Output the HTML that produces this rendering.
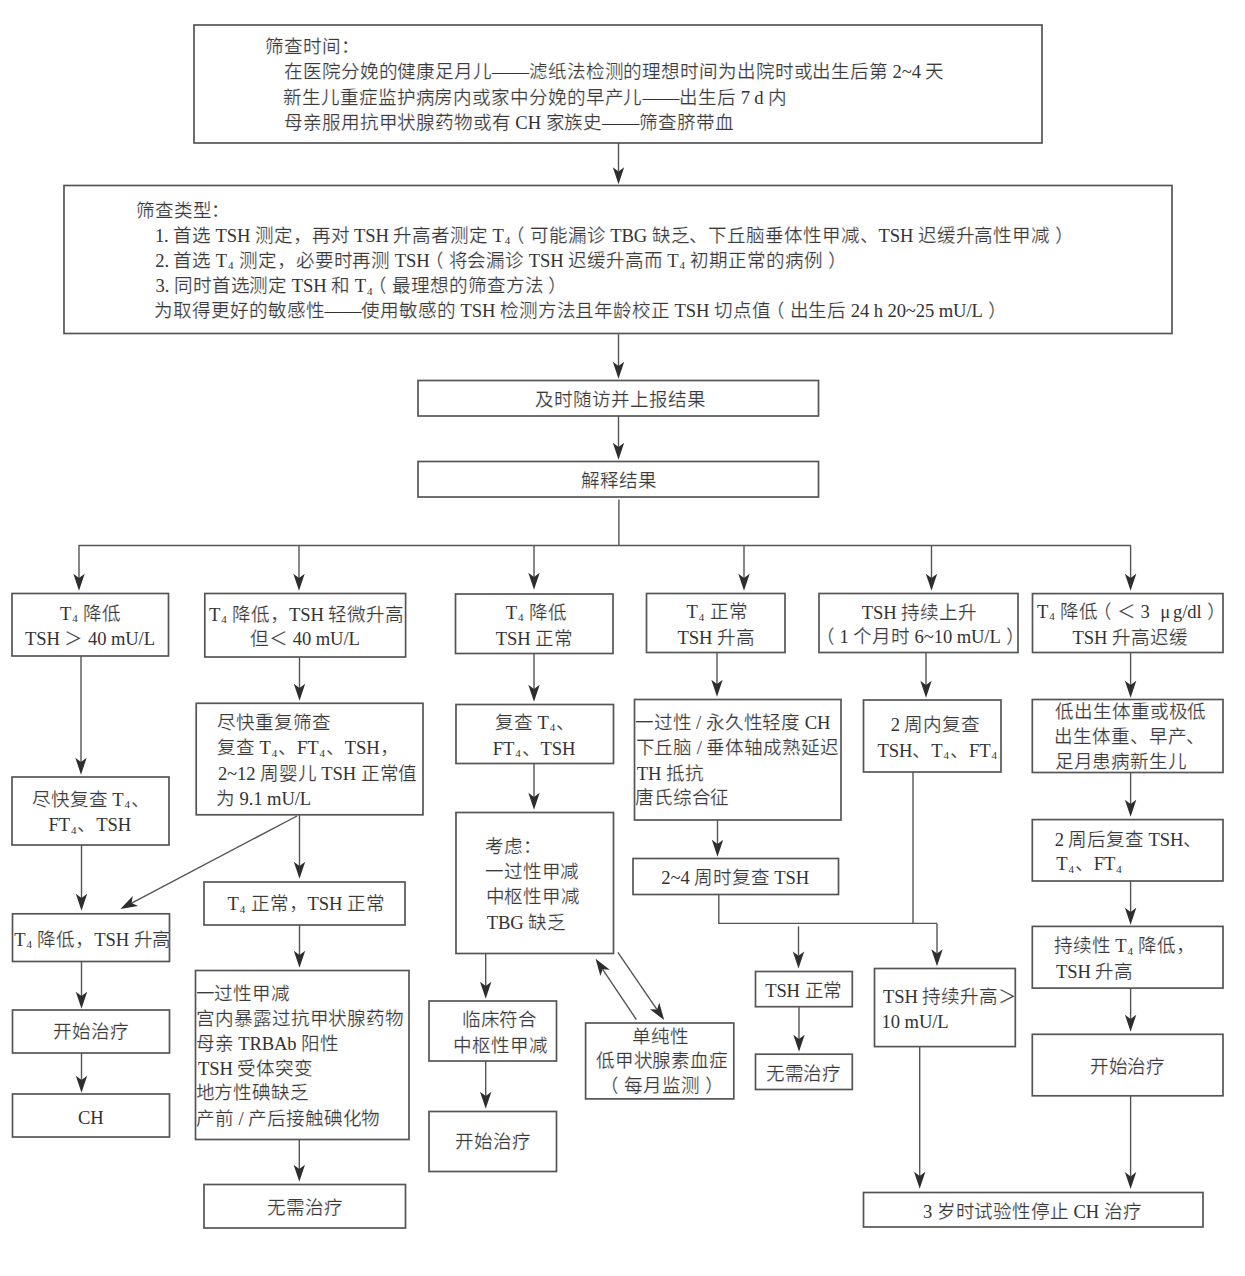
<!DOCTYPE html>
<html lang="zh-CN"><head><meta charset="utf-8"><style>
html,body{margin:0;padding:0;background:#fff;}
body{width:1245px;height:1276px;position:relative;overflow:hidden;}
svg{position:absolute;left:0;top:0;}
rect{fill:none;stroke:#555;stroke-width:1.7;}
.l{fill:none;stroke:#555;stroke-width:1.4;}
.a{fill:#2e2e2e;stroke:none;}
.t{position:absolute;white-space:nowrap;font-family:"Liberation Serif",serif;font-size:18.6px;line-height:20px;color:#3a3a3a;letter-spacing:-0.1px;-webkit-text-stroke:0.2px #fff;}
.t sub{font-size:11px;vertical-align:-2.5px;margin:0 1px 0 1px;line-height:0;-webkit-text-stroke:0;}
.e{-webkit-text-stroke:0;color:#333;}
.po{position:relative;left:-5px;}
.pc{position:relative;left:5px;}
</style></head><body>
<svg width="1245" height="1276" viewBox="0 0 1245 1276">
<rect x="194" y="25" width="848" height="118"/>
<rect x="64" y="185.5" width="1108" height="148.0"/>
<rect x="418" y="380.5" width="400.5" height="35.5"/>
<rect x="418" y="461.5" width="400.5" height="35.5"/>
<rect x="12" y="593.5" width="156.5" height="62.5"/>
<rect x="204.8" y="593.5" width="200.8" height="63.5"/>
<rect x="455.5" y="594" width="157.5" height="59.5"/>
<rect x="646.5" y="593.5" width="138.5" height="59.0"/>
<rect x="819" y="593.5" width="199" height="59.0"/>
<rect x="1032.5" y="593.6" width="190.5" height="58.89999999999998"/>
<rect x="12" y="777" width="157" height="68"/>
<rect x="12.5" y="913.8" width="157.0" height="47.700000000000045"/>
<rect x="12.5" y="1010" width="157.0" height="43"/>
<rect x="12.5" y="1094" width="157.0" height="43"/>
<rect x="196.2" y="703.3" width="226.8" height="111.5"/>
<rect x="204" y="882" width="201" height="43"/>
<rect x="195.5" y="970.5" width="213.5" height="169.0"/>
<rect x="204" y="1184.5" width="201.5" height="43.5"/>
<rect x="456" y="704.5" width="157.5" height="59.0"/>
<rect x="456" y="812.5" width="157.5" height="141.0"/>
<rect x="429" y="1001" width="127.5" height="60"/>
<rect x="429" y="1111.5" width="127.5" height="60.0"/>
<rect x="585.6" y="1023" width="148.19999999999993" height="75.90000000000009"/>
<rect x="634.5" y="699.5" width="206.5" height="120.5"/>
<rect x="633" y="858.5" width="205.5" height="36.0"/>
<rect x="755.5" y="971.5" width="96.79999999999995" height="35.200000000000045"/>
<rect x="755.5" y="1054.2" width="96.79999999999995" height="35.299999999999955"/>
<rect x="863.5" y="700" width="137.5" height="72"/>
<rect x="874.5" y="968.5" width="140.79999999999995" height="78.09999999999991"/>
<rect x="1032.3" y="699.5" width="190.70000000000005" height="73.0"/>
<rect x="1032.3" y="819.6" width="190.70000000000005" height="61.39999999999998"/>
<rect x="1032.3" y="926.4" width="190.70000000000005" height="61.700000000000045"/>
<rect x="1032.3" y="1034.3" width="190.70000000000005" height="61.5"/>
<rect x="863.5" y="1192.5" width="339.5" height="34.5"/>
<polyline class="l" points="618.9,499.5 618.9,545.5"/>
<polyline class="l" points="78.5,545.5 1131,545.5"/>
<polyline class="l" points="718.8,894.5 718.8,923.4 937,923.4"/>
<polyline class="l" points="913,772 913,923.4"/>
<line class="l" x1="618.5" y1="143" x2="618.50" y2="171.50"/>
<path class="a" d="M618.50,184.20 L612.80,167.20 L618.50,171.50 L624.20,167.20 Z"/>
<line class="l" x1="618.5" y1="334.2" x2="618.50" y2="366.00"/>
<path class="a" d="M618.50,378.70 L612.80,361.70 L618.50,366.00 L624.20,361.70 Z"/>
<line class="l" x1="618.5" y1="416" x2="618.50" y2="447.00"/>
<path class="a" d="M618.50,459.70 L612.80,442.70 L618.50,447.00 L624.20,442.70 Z"/>
<line class="l" x1="79" y1="545.5" x2="79.00" y2="578.00"/>
<path class="a" d="M79.00,590.70 L73.30,573.70 L79.00,578.00 L84.70,573.70 Z"/>
<line class="l" x1="299" y1="545.5" x2="299.00" y2="578.00"/>
<path class="a" d="M299.00,590.70 L293.30,573.70 L299.00,578.00 L304.70,573.70 Z"/>
<line class="l" x1="534" y1="545.5" x2="534.00" y2="577.00"/>
<path class="a" d="M534.00,589.70 L528.30,572.70 L534.00,577.00 L539.70,572.70 Z"/>
<line class="l" x1="744" y1="545.5" x2="744.00" y2="578.00"/>
<path class="a" d="M744.00,590.70 L738.30,573.70 L744.00,578.00 L749.70,573.70 Z"/>
<line class="l" x1="931.5" y1="545.5" x2="931.50" y2="578.00"/>
<path class="a" d="M931.50,590.70 L925.80,573.70 L931.50,578.00 L937.20,573.70 Z"/>
<line class="l" x1="1130.6" y1="545.5" x2="1130.60" y2="578.00"/>
<path class="a" d="M1130.60,590.70 L1124.90,573.70 L1130.60,578.00 L1136.30,573.70 Z"/>
<line class="l" x1="81" y1="656" x2="81.00" y2="762.00"/>
<path class="a" d="M81.00,774.70 L75.30,757.70 L81.00,762.00 L86.70,757.70 Z"/>
<line class="l" x1="81.5" y1="845" x2="81.50" y2="898.00"/>
<path class="a" d="M81.50,910.70 L75.80,893.70 L81.50,898.00 L87.20,893.70 Z"/>
<line class="l" x1="81.5" y1="961.5" x2="81.50" y2="996.00"/>
<path class="a" d="M81.50,1008.70 L75.80,991.70 L81.50,996.00 L87.20,991.70 Z"/>
<line class="l" x1="81.5" y1="1053" x2="81.50" y2="1080.00"/>
<path class="a" d="M81.50,1092.70 L75.80,1075.70 L81.50,1080.00 L87.20,1075.70 Z"/>
<line class="l" x1="299.5" y1="657" x2="299.50" y2="688.00"/>
<path class="a" d="M299.50,700.70 L293.80,683.70 L299.50,688.00 L305.20,683.70 Z"/>
<line class="l" x1="299.5" y1="815" x2="299.50" y2="866.00"/>
<path class="a" d="M299.50,878.70 L293.80,861.70 L299.50,866.00 L305.20,861.70 Z"/>
<line class="l" x1="297" y1="816" x2="131.62" y2="903.01"/>
<path class="a" d="M120.38,908.93 L132.77,895.97 L131.62,903.01 L138.08,906.05 Z"/>
<line class="l" x1="299.5" y1="925" x2="299.50" y2="955.00"/>
<path class="a" d="M299.50,967.70 L293.80,950.70 L299.50,955.00 L305.20,950.70 Z"/>
<line class="l" x1="299.3" y1="1139.5" x2="299.30" y2="1169.00"/>
<path class="a" d="M299.30,1181.70 L293.60,1164.70 L299.30,1169.00 L305.00,1164.70 Z"/>
<line class="l" x1="534" y1="653.5" x2="534.00" y2="689.00"/>
<path class="a" d="M534.00,701.70 L528.30,684.70 L534.00,689.00 L539.70,684.70 Z"/>
<line class="l" x1="534" y1="763.5" x2="534.00" y2="797.00"/>
<path class="a" d="M534.00,809.70 L528.30,792.70 L534.00,797.00 L539.70,792.70 Z"/>
<line class="l" x1="485.7" y1="953.5" x2="485.70" y2="986.00"/>
<path class="a" d="M485.70,998.70 L480.00,981.70 L485.70,986.00 L491.40,981.70 Z"/>
<line class="l" x1="485.7" y1="1061" x2="485.70" y2="1096.00"/>
<path class="a" d="M485.70,1108.70 L480.00,1091.70 L485.70,1096.00 L491.40,1091.70 Z"/>
<line class="l" x1="636.3" y1="1019.5" x2="602.68" y2="969.37"/>
<path class="a" d="M595.61,958.82 L609.81,969.76 L602.68,969.37 L600.34,976.11 Z"/>
<line class="l" x1="617.9" y1="952.4" x2="657.02" y2="1009.60"/>
<path class="a" d="M664.20,1020.08 L649.89,1009.26 L657.02,1009.60 L659.30,1002.83 Z"/>
<line class="l" x1="717" y1="652.5" x2="717.00" y2="684.00"/>
<path class="a" d="M717.00,696.70 L711.30,679.70 L717.00,684.00 L722.70,679.70 Z"/>
<line class="l" x1="717.5" y1="820" x2="717.50" y2="844.00"/>
<path class="a" d="M717.50,856.70 L711.80,839.70 L717.50,844.00 L723.20,839.70 Z"/>
<line class="l" x1="798.5" y1="926.4" x2="798.50" y2="955.70"/>
<path class="a" d="M798.50,968.40 L792.80,951.40 L798.50,955.70 L804.20,951.40 Z"/>
<line class="l" x1="799" y1="1007" x2="799.00" y2="1039.00"/>
<path class="a" d="M799.00,1051.70 L793.30,1034.70 L799.00,1039.00 L804.70,1034.70 Z"/>
<line class="l" x1="937" y1="923.4" x2="937.00" y2="953.60"/>
<path class="a" d="M937.00,966.30 L931.30,949.30 L937.00,953.60 L942.70,949.30 Z"/>
<line class="l" x1="926" y1="652.5" x2="926.00" y2="685.00"/>
<path class="a" d="M926.00,697.70 L920.30,680.70 L926.00,685.00 L931.70,680.70 Z"/>
<line class="l" x1="919.7" y1="1046.5" x2="919.70" y2="1176.00"/>
<path class="a" d="M919.70,1188.70 L914.00,1171.70 L919.70,1176.00 L925.40,1171.70 Z"/>
<line class="l" x1="1130.6" y1="652.5" x2="1130.60" y2="685.00"/>
<path class="a" d="M1130.60,697.70 L1124.90,680.70 L1130.60,685.00 L1136.30,680.70 Z"/>
<line class="l" x1="1130.6" y1="772" x2="1130.60" y2="804.00"/>
<path class="a" d="M1130.60,816.70 L1124.90,799.70 L1130.60,804.00 L1136.30,799.70 Z"/>
<line class="l" x1="1130.6" y1="881" x2="1130.60" y2="912.00"/>
<path class="a" d="M1130.60,924.70 L1124.90,907.70 L1130.60,912.00 L1136.30,907.70 Z"/>
<line class="l" x1="1130.6" y1="988" x2="1130.60" y2="1019.00"/>
<path class="a" d="M1130.60,1031.70 L1124.90,1014.70 L1130.60,1019.00 L1136.30,1014.70 Z"/>
<line class="l" x1="1130.6" y1="1096" x2="1130.60" y2="1176.40"/>
<path class="a" d="M1130.60,1189.10 L1124.90,1172.10 L1130.60,1176.40 L1136.30,1172.10 Z"/>
</svg>
<div class="t" id="t0" style="left:265.18px;top:37.00px">筛查时间：</div>
<div class="t" id="t1" style="left:284.00px;top:62.40px">在医院分娩的健康足月儿<span class="e">——</span>滤纸法检测的理想时间为出院时或出生后第 <span class="e">2~4</span> 天</div>
<div class="t" id="t2" style="left:283.28px;top:87.60px">新生儿重症监护病房内或家中分娩的早产儿<span class="e">——</span>出生后 <span class="e">7 d</span> 内</div>
<div class="t" id="t3" style="left:284.00px;top:112.60px">母亲服用抗甲状腺药物或有 <span class="e">CH</span> 家族史<span class="e">——</span>筛查脐带血</div>
<div class="t" id="t4" style="left:135.82px;top:200.60px">筛查类型：</div>
<div class="t" id="t5" style="left:154.92px;top:225.80px"><span class="e">1.</span> 首选 <span class="e">TSH</span> 测定，再对 <span class="e">TSH</span> 升高者测定 <span class="e">T</span><sub><span class="e">4</span></sub><span class="po">（</span>可能漏诊 <span class="e">TBG</span> 缺乏、下丘脑垂体性甲减、<span class="e">TSH</span> 迟缓升高性甲减<span class="pc">）</span></div>
<div class="t" id="t6" style="left:155.20px;top:250.80px"><span class="e">2.</span> 首选 <span class="e">T</span><sub><span class="e">4</span></sub> 测定，必要时再测 <span class="e">TSH</span><span class="po">（</span>将会漏诊 <span class="e">TSH</span> 迟缓升高而 <span class="e">T</span><sub><span class="e">4</span></sub> 初期正常的病例<span class="pc">）</span></div>
<div class="t" id="t7" style="left:155.56px;top:276.00px"><span class="e">3.</span> 同时首选测定 <span class="e">TSH</span> 和 <span class="e">T</span><sub><span class="e">4</span></sub><span class="po">（</span>最理想的筛查方法<span class="pc">）</span></div>
<div class="t" id="t8" style="left:154.32px;top:301.00px">为取得更好的敏感性<span class="e">——</span>使用敏感的 <span class="e">TSH</span> 检测方法且年龄校正 <span class="e">TSH</span> 切点值<span class="po">（</span>出生后 <span class="e">24 h 20~25 mU/L</span><span class="pc">）</span></div>
<div class="t" id="t9" style="left:535.36px;top:389.60px">及时随访并上报结果</div>
<div class="t" id="t10" style="left:581.36px;top:470.70px">解释结果</div>
<div class="t" id="t11" style="left:60.08px;top:603.90px"><span class="e">T</span><sub><span class="e">4</span></sub> 降低</div>
<div class="t" id="t12" style="left:25.12px;top:629.30px"><span class="e">TSH</span> ＞ <span class="e">40 mU/L</span></div>
<div class="t" id="t13" style="left:209.04px;top:604.70px"><span class="e">T</span><sub><span class="e">4</span></sub> 降低，<span class="e">TSH</span> 轻微升高</div>
<div class="t" id="t14" style="left:250.42px;top:629.10px">但＜ <span class="e">40 mU/L</span></div>
<div class="t" id="t15" style="left:505.72px;top:602.60px"><span class="e">T</span><sub><span class="e">4</span></sub> 降低</div>
<div class="t" id="t16" style="left:495.72px;top:628.50px"><span class="e">TSH</span> 正常</div>
<div class="t" id="t17" style="left:686.54px;top:602.10px"><span class="e">T</span><sub><span class="e">4</span></sub> 正常</div>
<div class="t" id="t18" style="left:677.40px;top:627.50px"><span class="e">TSH</span> 升高</div>
<div class="t" id="t19" style="left:861.86px;top:602.60px"><span class="e">TSH</span> 持续上升</div>
<div class="t" id="t20" style="left:820.62px;top:627.30px"><span class="po">（</span><span class="e">1</span> 个月时 <span class="e">6~10 mU/L</span><span class="pc">）</span></div>
<div class="t" id="t21" style="left:1037.06px;top:601.80px"><span class="e">T</span><sub><span class="e">4</span></sub> 降低<span class="po">（</span>＜ <span class="e">3</span> <span style='margin-left:6px;margin-right:3px'><span class="e">μ</span></span><span class="e">g/dl</span><span class="pc">）</span></div>
<div class="t" id="t22" style="left:1072.48px;top:627.90px"><span class="e">TSH</span> 升高迟缓</div>
<div class="t" id="t23" style="left:32.04px;top:789.50px">尽快复查 <span class="e">T</span><sub><span class="e">4</span></sub>、</div>
<div class="t" id="t24" style="left:48.50px;top:815.10px"><span class="e">FT</span><sub><span class="e">4</span></sub>、<span class="e">TSH</span></div>
<div class="t" id="t25" style="left:14.22px;top:929.80px"><span class="e">T</span><sub><span class="e">4</span></sub> 降低，<span class="e">TSH</span> 升高</div>
<div class="t" id="t26" style="left:53.06px;top:1022.40px">开始治疗</div>
<div class="t" id="t27" style="left:77.96px;top:1107.60px"><span class="e">CH</span></div>
<div class="t" id="t28" style="left:217.10px;top:712.80px">尽快重复筛查</div>
<div class="t" id="t29" style="left:217.10px;top:738.40px">复查 <span class="e">T</span><sub><span class="e">4</span></sub>、<span class="e">FT</span><sub><span class="e">4</span></sub>、<span class="e">TSH</span>，</div>
<div class="t" id="t30" style="left:217.90px;top:764.10px"><span class="e">2~12</span> 周婴儿 <span class="e">TSH</span> 正常值</div>
<div class="t" id="t31" style="left:216.10px;top:788.70px">为 <span class="e">9.1 mU/L</span></div>
<div class="t" id="t32" style="left:227.54px;top:894.30px"><span class="e">T</span><sub><span class="e">4</span></sub> 正常，<span class="e">TSH</span> 正常</div>
<div class="t" id="t33" style="left:195.54px;top:983.60px">一过性甲减</div>
<div class="t" id="t34" style="left:196.18px;top:1008.70px">宫内暴露过抗甲状腺药物</div>
<div class="t" id="t35" style="left:195.82px;top:1033.80px">母亲 <span class="e">TRBAb</span> 阳性</div>
<div class="t" id="t36" style="left:197.98px;top:1058.90px"><span class="e">TSH</span> 受体突变</div>
<div class="t" id="t37" style="left:195.54px;top:1083.30px">地方性碘缺乏</div>
<div class="t" id="t38" style="left:196.10px;top:1108.90px">产前 <span class="e">/</span> 产后接触碘化物</div>
<div class="t" id="t39" style="left:267.12px;top:1198.00px">无需治疗</div>
<div class="t" id="t40" style="left:495.10px;top:712.70px">复查 <span class="e">T</span><sub><span class="e">4</span></sub>、</div>
<div class="t" id="t41" style="left:492.80px;top:738.60px"><span class="e">FT</span><sub><span class="e">4</span></sub>、<span class="e">TSH</span></div>
<div class="t" id="t42" style="left:484.78px;top:836.80px">考虑：</div>
<div class="t" id="t43" style="left:484.88px;top:862.10px">一过性甲减</div>
<div class="t" id="t44" style="left:485.60px;top:887.30px">中枢性甲减</div>
<div class="t" id="t45" style="left:486.70px;top:912.90px"><span class="e">TBG</span> 缺乏</div>
<div class="t" id="t46" style="left:461.64px;top:1010.20px">临床符合</div>
<div class="t" id="t47" style="left:453.28px;top:1035.70px">中枢性甲减</div>
<div class="t" id="t48" style="left:455.36px;top:1132.40px">开始治疗</div>
<div class="t" id="t49" style="left:632.44px;top:1026.50px">单纯性</div>
<div class="t" id="t50" style="left:595.72px;top:1051.40px">低甲状腺素血症</div>
<div class="t" id="t51" style="left:605.34px;top:1076.40px"><span class="po">（</span>每月监测<span class="pc">）</span></div>
<div class="t" id="t52" style="left:634.86px;top:712.60px">一过性 <span class="e">/</span> 永久性轻度 <span class="e">CH</span></div>
<div class="t" id="t53" style="left:635.58px;top:738.10px">下丘脑 <span class="e">/</span> 垂体轴成熟延迟</div>
<div class="t" id="t54" style="left:636.68px;top:763.60px"><span class="e">TH</span> 抵抗</div>
<div class="t" id="t55" style="left:634.86px;top:787.90px">唐氏综合征</div>
<div class="t" id="t56" style="left:661.26px;top:868.20px"><span class="e">2~4</span> 周时复查 <span class="e">TSH</span></div>
<div class="t" id="t57" style="left:765.14px;top:980.70px"><span class="e">TSH</span> 正常</div>
<div class="t" id="t58" style="left:765.64px;top:1064.20px">无需治疗</div>
<div class="t" id="t59" style="left:890.72px;top:714.70px"><span class="e">2</span> 周内复查</div>
<div class="t" id="t60" style="left:877.62px;top:740.60px"><span class="e">TSH</span>、<span class="e">T</span><sub><span class="e">4</span></sub>、<span class="e">FT</span><sub><span class="e">4</span></sub></div>
<div class="t" id="t61" style="left:882.90px;top:986.80px"><span class="e">TSH</span> 持续升高＞</div>
<div class="t" id="t62" style="left:881.60px;top:1011.80px"><span class="e">10 mU/L</span></div>
<div class="t" id="t63" style="left:1055.16px;top:701.70px">低出生体重或极低</div>
<div class="t" id="t64" style="left:1054.16px;top:726.70px">出生体重、早产、</div>
<div class="t" id="t65" style="left:1054.70px;top:752.10px">足月患病新生儿</div>
<div class="t" id="t66" style="left:1054.70px;top:830.10px"><span class="e">2</span> 周后复查 <span class="e">TSH</span>、</div>
<div class="t" id="t67" style="left:1056.16px;top:854.40px"><span class="e">T</span><sub><span class="e">4</span></sub>、<span class="e">FT</span><sub><span class="e">4</span></sub></div>
<div class="t" id="t68" style="left:1053.98px;top:936.40px">持续性 <span class="e">T</span><sub><span class="e">4</span></sub> 降低，</div>
<div class="t" id="t69" style="left:1055.90px;top:962.40px"><span class="e">TSH</span> 升高</div>
<div class="t" id="t70" style="left:1089.64px;top:1057.10px">开始治疗</div>
<div class="t" id="t71" style="left:922.92px;top:1201.70px"><span class="e">3</span> 岁时试验性停止 <span class="e">CH</span> 治疗</div>
</body></html>
